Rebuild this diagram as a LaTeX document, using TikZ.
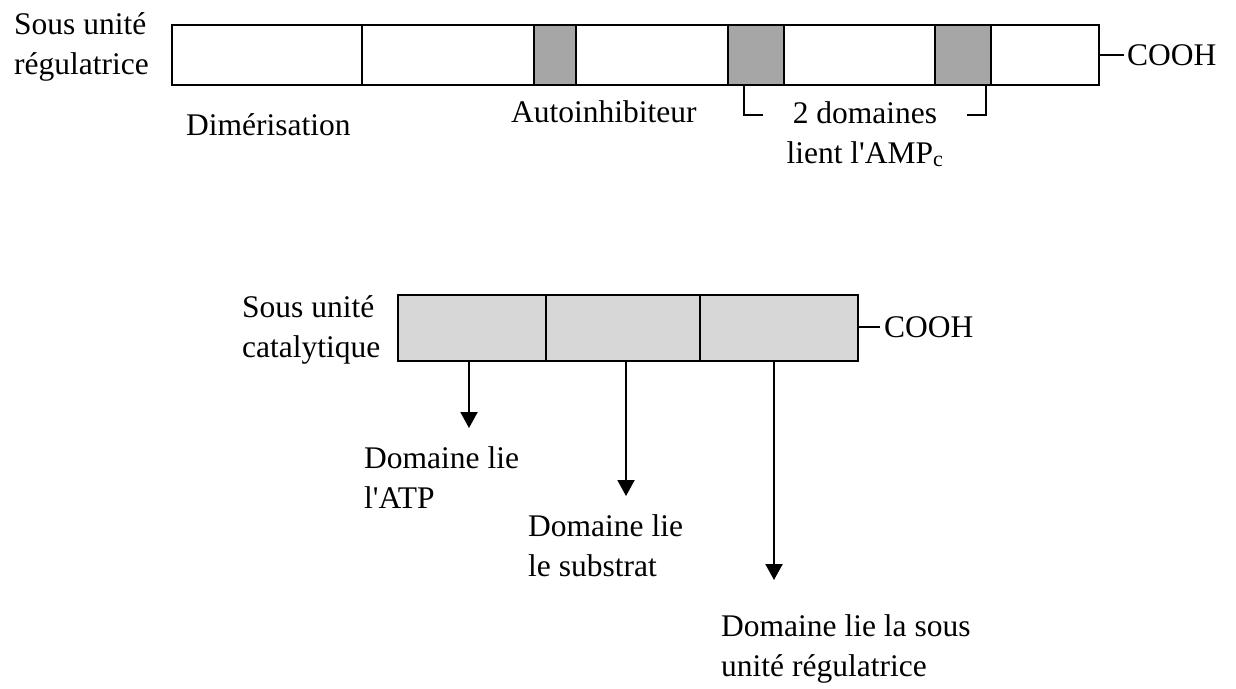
\documentclass[tikz,border=0pt]{standalone}
\usepackage{fontspec}
\setmainfont{Liberation Serif}[Ligatures=TeXOff]
\usetikzlibrary{arrows.meta}
\definecolor{darkseg}{RGB}{166,166,166}
\definecolor{lightseg}{RGB}{215,215,215}
\tikzset{
  seg/.style={draw=black, line width=2.2pt, fill=white, inner sep=0pt, minimum height=60pt},
  grayseg/.style={seg, fill=darkseg},
  catseg/.style={draw=black, line width=2.2pt, fill=lightseg, inner sep=0pt, minimum height=66pt},
  lbl/.style={inner sep=0pt, font=\fontsize{31.5}{40}\selectfont},
  conn/.style={line width=2pt},
  arr/.style={line width=2pt, -{Triangle[length=16pt,width=17pt]}},
}
\begin{document}
\begin{tikzpicture}[x=1pt, y=-1pt]
\useasboundingbox (0,0) rectangle (1236,688);
% top bar (regulatory subunit)
\node[seg, minimum width=190pt] (r1) at (267,55) {};
\node[seg, minimum width=172pt] (r2) at (448,55) {};
\node[grayseg, minimum width=42pt] (g1) at (555,55) {};
\node[seg, minimum width=152pt] (r3) at (652,55) {};
\node[grayseg, minimum width=56pt] (g2) at (756,55) {};
\node[seg, minimum width=151pt] (r4) at (859.5,55) {};
\node[grayseg, minimum width=56pt] (g3) at (963,55) {};
\node[seg, minimum width=108pt] (r5) at (1045,55) {};
\node[lbl, anchor=west, inner xsep=3pt] (cooh1) at (1124,55) {COOH};
\draw[conn] (r5.east) -- (cooh1.west);

\node[lbl, anchor=base west] (sur) at (14,34) {\begin{tabular}[t]{@{}l@{}}Sous unité\\régulatrice\end{tabular}};
\node[lbl, anchor=base west] (dim) at (186,135) {Dimérisation};
\node[lbl, anchor=base west] (auto) at (511,122) {Autoinhibiteur};
\node[lbl, anchor=base] (amp) at (865,123) {\begin{tabular}[t]{@{}c@{}}2 domaines\\lient l'AMP\textsubscript{c}\end{tabular}};

% bracket
\coordinate (bl) at (744,115);
\coordinate (ble) at (763,115);
\coordinate (br) at (986,115);
\coordinate (bre) at (967,115);
\draw[conn] (bl |- g2.south) -- (bl) -- (ble);
\draw[conn] (bre) -- (br) -- (br |- g3.south);

% lower bar (catalytic subunit)
\node[catseg, minimum width=148pt] (c1) at (472,328) {};
\node[catseg, minimum width=154pt] (c2) at (623,328) {};
\node[catseg, minimum width=158pt] (c3) at (779,328) {};
\node[lbl, anchor=west, inner xsep=4pt] (cooh2) at (880,327) {COOH};
\draw[conn] (c3.east |- cooh2.west) -- (cooh2.west);

\node[lbl, anchor=base west] (suc) at (242,317) {\begin{tabular}[t]{@{}l@{}}Sous unité\\catalytique\end{tabular}};

% arrows
\coordinate (t1) at (469,428);
\coordinate (t2) at (626,496);
\coordinate (t3) at (774,580);
\draw[arr] (t1 |- c1.south) -- (t1);
\draw[arr] (t2 |- c2.south) -- (t2);
\draw[arr] (t3 |- c3.south) -- (t3);

\node[lbl, anchor=base west] (atp) at (364,468) {\begin{tabular}[t]{@{}l@{}}Domaine lie\\l'ATP\end{tabular}};
\node[lbl, anchor=base west] (sub) at (528,536) {\begin{tabular}[t]{@{}l@{}}Domaine lie\\le substrat\end{tabular}};
\node[lbl, anchor=base west] (reg) at (721,636) {\begin{tabular}[t]{@{}l@{}}Domaine lie la sous\\unité régulatrice\end{tabular}};
\end{tikzpicture}
\end{document}
